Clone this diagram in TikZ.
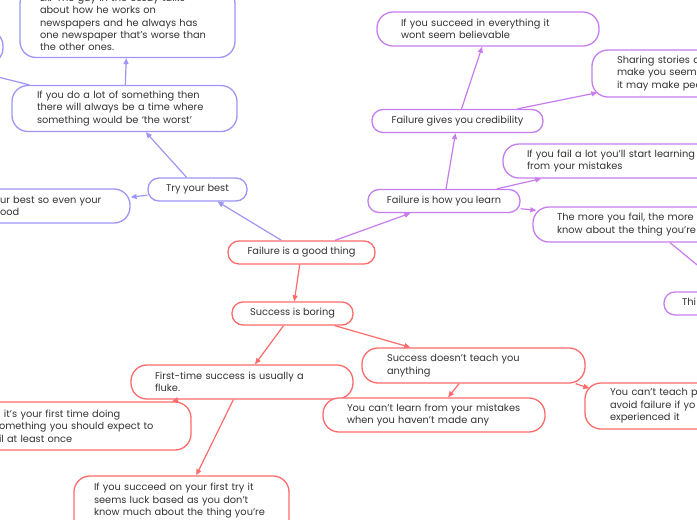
\documentclass[tikz,border=0pt]{standalone}
\usepackage{fontspec}
\setmainfont{Poppins}
\usetikzlibrary{arrows.meta}
\definecolor{cblue}{HTML}{9E95F5}
\definecolor{cpurp}{HTML}{C77DEE}
\definecolor{cred}{HTML}{FF6B6B}
\definecolor{ctext}{HTML}{333333}
\newcommand{\ml}[1]{\mbox{#1}}
\begin{document}
\begin{tikzpicture}[x=1pt,y=-1pt,
  bx/.style={draw=#1, line width=1.3pt, fill=white, inner xsep=0pt, inner ysep=0pt,
    text=ctext, font=\fontsize{9.8}{12.4}\selectfont},
  multi/.style={bx=#1, rounded corners=16pt, align=left},
  pill/.style={bx=#1, rounded corners=11pt, align=center, minimum height=23pt,
    text height=7pt, text depth=2.2pt},
  arr/.style={draw=#1, line width=1.2pt, -{Triangle[length=6pt,width=5pt]}}]
\useasboundingbox (0,0) rectangle (697,520);
\clip (0,0) rectangle (697,520);
\fill[white] (0,0) rectangle (697,520);
% blue branch
\node[multi=cblue, minimum width=215pt, minimum height=70pt, text width=175pt] (ex) at (127.5,22.5)
  {\ml{Ex: The guy in the essay talks}\\\ml{about how he works on}\\\ml{newspapers and he always has}\\\ml{one newspaper that’s worse than}\\\ml{the other ones.}};
\node[multi=cblue, minimum width=250pt, minimum height=34pt] (L1) at (-122,47) {};
\node[multi=cblue, minimum width=225pt, minimum height=46pt, text width=175pt] (dolot) at (124.5,108.5)
  {\ml{If you do a lot of something then}\\\ml{there will always be a time where}\\\ml{something would be `the worst'}};
\node[pill=cblue, minimum width=99pt] (try) at (197.5,189.5) {Try your best};
\node[multi=cblue, minimum width=154pt, minimum height=34pt, text width=106pt] (L2) at (53,206)
  {\ml{ur best so even your}\\\ml{ood}};
% centre
\node[pill=cred, minimum width=147pt] (central) at (301.5,252.5) {Failure is a good thing};
% purple branch
\node[pill=cpurp, minimum width=152pt] (how) at (444,201) {Failure is how you learn};
\node[pill=cpurp, minimum width=171pt] (cred) at (457.5,121) {Failure gives you credibility};
\node[multi=cpurp, minimum width=222pt, minimum height=34pt, text width=174pt] (believ) at (488,29)
  {\ml{If you succeed in everything it}\\\ml{wont seem believable}};
\node[multi=cpurp, minimum width=230pt, minimum height=47pt, text width=180pt] (sharing) at (707,73.5)
  {\ml{Sharing stories o}\\\ml{make you seem}\\\ml{it may make peo}};
\node[multi=cpurp, minimum width=230pt, minimum height=34pt, text width=182pt] (faillot) at (618,161)
  {\ml{If you fail a lot you’ll start learning}\\\ml{from your mistakes}};
\node[multi=cpurp, minimum width=230pt, minimum height=35pt, text width=182pt] (more) at (648,224.5)
  {\ml{The more you fail, the more y}\\\ml{know about the thing you’re}};
\node[pill=cpurp, minimum width=160pt, text width=124pt, align=left] (thi) at (744,303.5) {Thi};
% red branch
\node[pill=cred, minimum width=121pt] (success) at (292.5,313.5) {Success is boring};
\node[multi=cred, minimum width=222pt, minimum height=34pt, text width=174pt] (firsttime) at (242,382)
  {\ml{First-time success is usually a}\\\ml{fluke.}};
\node[multi=cred, minimum width=216pt, minimum height=48pt, text width=168pt] (L3) at (83,426)
  {\ml{\hspace*{5pt}it’s your first time doing}\\\ml{omething you should expect to}\\\ml{il at least once}};
\node[multi=cred, minimum width=215pt, minimum height=59pt, text width=175pt] (suc1) at (181.5,505.5)
  {\ml{If you succeed on your first try it}\\\ml{seems luck based as you don’t}\\\ml{know much about the thing you’re}\\\mbox{}};
\node[multi=cred, minimum width=223pt, minimum height=35pt, text width=173pt] (doesnt) at (473.5,365.5)
  {\ml{Success doesn’t teach you}\\\ml{anything}};
\node[multi=cred, minimum width=222pt, minimum height=34pt, text width=174pt] (learn) at (434,415)
  {\ml{You can’t learn from your mistakes}\\\ml{when you haven’t made any}};
\node[multi=cred, minimum width=230pt, minimum height=46pt, text width=180pt] (teach) at (700,406)
  {\ml{You can’t teach pe}\\\ml{avoid failure if yo}\\\ml{experienced it}};
% connectors
\draw[arr=cblue] (dolot) -- (ex);
\draw[arr=cblue] ([xshift=18pt]dolot.north west) -- (L1);
\draw[arr=cblue] (try) -- (dolot);
\draw[arr=cblue] (try) -- (L2);
\draw[arr=cblue] (central) -- (try);
\draw[arr=cpurp] (central) -- (how);
\draw[arr=cpurp] (how) -- (cred);
\draw[arr=cpurp] (cred) -- (believ);
\draw[arr=cpurp] (cred) -- ([xshift=6pt,yshift=5pt]sharing.south west);
\draw[arr=cpurp] (how) -- (faillot);
\draw[arr=cpurp] (how) -- ([xshift=4pt,yshift=-4pt]more.north west);
\draw[arr=cpurp] (more) -- (thi);
\draw[arr=cred] (central) -- (success);
\draw[arr=cred] (success) -- (firsttime);
\draw[arr=cred] (success) -- (doesnt);
\draw[arr=cred] (firsttime) -- (L3);
\draw[arr=cred] (firsttime) -- (suc1);
\draw[arr=cred] (doesnt) -- (learn);
\draw[arr=cred] ([xshift=-10pt]doesnt.south east) -- ([xshift=5pt,yshift=-6pt]teach.north west);
\end{tikzpicture}
\end{document}
